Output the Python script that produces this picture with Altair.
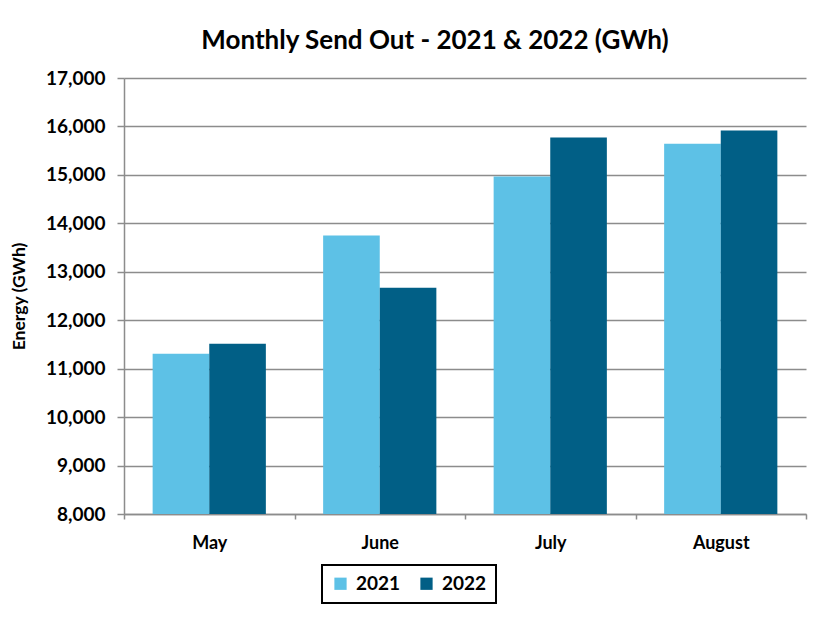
import altair as alt
import pandas as pd

months = ["May", "June", "July", "August"]
years = ["2021", "2022"]
values_2021 = [11310, 13750, 14965, 15645]
values_2022 = [11515, 12670, 15770, 15915]
colors = ["#5DC1E6", "#015F86"]

rows = []
for i, m in enumerate(months):
    rows.append({"Month": m, "Year": "2021", "Energy": values_2021[i]})
    rows.append({"Month": m, "Year": "2022", "Energy": values_2022[i]})
df = pd.DataFrame(rows)

FONT = "Lato"

chart = (
    alt.Chart(df)
    .mark_bar(clip=True)
    .encode(
        x=alt.X(
            "Month:N",
            sort=months,
            title=None,
            scale=alt.Scale(paddingInner=0, paddingOuter=0),
            axis=alt.Axis(
                labelAngle=0,
                labelFontSize=18,
                labelFontWeight="bold",
                labelColor="#000000",
                labelPadding=15,
                tickBand="extent",
                tickSize=5,
                tickColor="#8C8C8C",
                tickWidth=1.5,
                domainColor="#8C8C8C",
                domainWidth=1.5,
                grid=False,
            ),
        ),
        xOffset=alt.XOffset(
            "Year:N",
            sort=years,
            scale=alt.Scale(paddingInner=0, paddingOuter=0.506),
        ),
        y=alt.Y(
            "Energy:Q",
            title="Energy (GWh)",
            scale=alt.Scale(domain=[8000, 17000], nice=False, zero=False),
            axis=alt.Axis(
                values=list(range(8000, 17001, 1000)),
                format=",.0f",
                labelFontSize=19,
                labelFontWeight="bold",
                labelColor="#000000",
                labelPadding=12,
                tickSize=7,
                tickColor="#8C8C8C",
                tickWidth=1.5,
                domainColor="#8C8C8C",
                domainWidth=1.5,
                gridColor="#8C8C8C",
                gridWidth=1.5,
                titleFontSize=17.5,
                titleFontWeight="bold",
                titleColor="#000000",
                titlePadding=17,
            ),
        ),
        color=alt.Color(
            "Year:N",
            scale=alt.Scale(domain=years, range=colors),
            legend=alt.Legend(
                title=None,
                orient="none",
                legendX=198,
                legendY=487,
                direction="horizontal",
                symbolType="square",
                symbolSize=150,
                symbolStrokeWidth=0,
                labelFontSize=19,
                labelFontWeight="bold",
                labelColor="#000000",
                strokeColor="#000000",
                padding=9,
                columnPadding=16,
                labelOffset=6,
            ),
        ),
    )
    .properties(
        width=682,
        height=436,
        title=alt.TitleParams(
            "Monthly Send Out - 2021 & 2022 (GWh)",
            fontSize=26,
            fontWeight="bold",
            color="#000000",
            anchor="middle",
            offset=15,
            dx=-30,
        ),
        padding={"left": 116, "top": 70, "right": 12, "bottom": 96},
        autosize=alt.AutoSizeParams(type="none"),
    )
    .configure(font=FONT)
    .configure_legend(strokeWidth=2)
    .configure_view(stroke=None)
)

chart.save("out.html", embed_options={"renderer": "svg", "actions": False})
